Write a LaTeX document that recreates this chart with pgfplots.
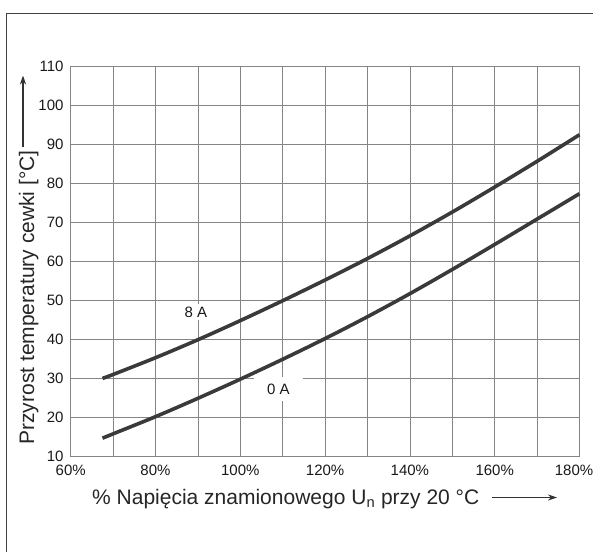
\documentclass[border=0pt]{standalone}
\usepackage{fontspec}
\setmainfont{Liberation Sans}
\usepackage{pgfplots}
\pgfplotsset{compat=1.18}
\usetikzlibrary{arrows.meta}
\definecolor{curve}{HTML}{3A3A3A}
\definecolor{gridc}{HTML}{858585}
\begin{document}
\begin{tikzpicture}
\useasboundingbox (-70.7pt,-95.5pt) rectangle (522.3pt,456.5pt);
\draw[line width=1.4pt, black!75] (-64pt,-95.5pt) -- (-64pt,443pt) -- (522.3pt,443pt);
\begin{axis}[
  at={(0pt,0pt)}, anchor=south west,
  scale only axis, width=508.8pt, height=390.5pt,
  xmin=60, xmax=180, ymin=10, ymax=110,
  xtick={60,80,...,160}, minor xtick={70,90,...,170},
  extra x ticks={180},
  extra x tick style={grid=none, xticklabel style={xshift=-5.5pt}},
  ytick={10,20,...,110},
  grid=both,
  major grid style={gridc, line width=0.7pt},
  minor grid style={gridc, line width=0.7pt},
  axis line style={gridc, line width=0.8pt},
  major tick length=0pt, minor tick length=0pt,
  /pgf/number format/assume math mode=true,
  tick label style={font=\fontsize{15}{17}\selectfont, text=black!90},
  xticklabel={\pgfmathprintnumber{\tick}\%},
  xticklabel style={anchor=north, inner sep=0pt, yshift=-8pt},
  yticklabel style={anchor=east, inner sep=0pt, xshift=-7pt},
  clip=false,
]
\addplot[curve, line width=3.6pt, smooth] coordinates {
 (67.5,30.0) (70,31.0) (80,35.3) (90,39.9) (100,44.8) (110,49.9) (120,55.2)
 (130,60.7) (140,66.5) (150,72.6) (160,79.0) (170,85.6) (180,92.4)};
\addplot[curve, line width=3.6pt, smooth] coordinates {
 (67.5,14.7) (70,15.8) (80,20.2) (90,24.9) (100,29.8) (110,34.9) (120,40.2)
 (130,45.8) (140,51.7) (150,57.9) (160,64.3) (170,70.8) (180,77.3)};
\node[fill=white, inner xsep=4pt, inner ysep=3pt, font=\fontsize{15}{17}\selectfont, text=black!90] at (axis cs:89.5,47.0) {8 A};
\node[fill=white, inner xsep=13pt, inner ysep=7pt, font=\fontsize{15}{17}\selectfont, text=black!90] at (axis cs:109,27.3) {0 A};
\end{axis}
\node[rotate=90, anchor=base, font=\fontsize{21}{24}\selectfont, text=black!85, inner sep=0pt] at (-36.7pt,159pt) {Przyrost temperatury cewki [°C]};
\draw[-{Stealth[length=9pt,width=6pt]}, line width=1.3pt, black!80] (-47.7pt,309.5pt) -- (-47.7pt,381pt);
\node[anchor=base west, font=\fontsize{21}{24}\selectfont, text=black!85, inner sep=0pt] at (21.3pt,-47.5pt) {\% Napięcia znamionowego U\textsubscript{n} przy 20 °C};
\draw[-{Stealth[length=9pt,width=6pt]}, line width=1.3pt, black!80] (421.3pt,-41pt) -- (486.3pt,-41pt);
\end{tikzpicture}
\end{document}
